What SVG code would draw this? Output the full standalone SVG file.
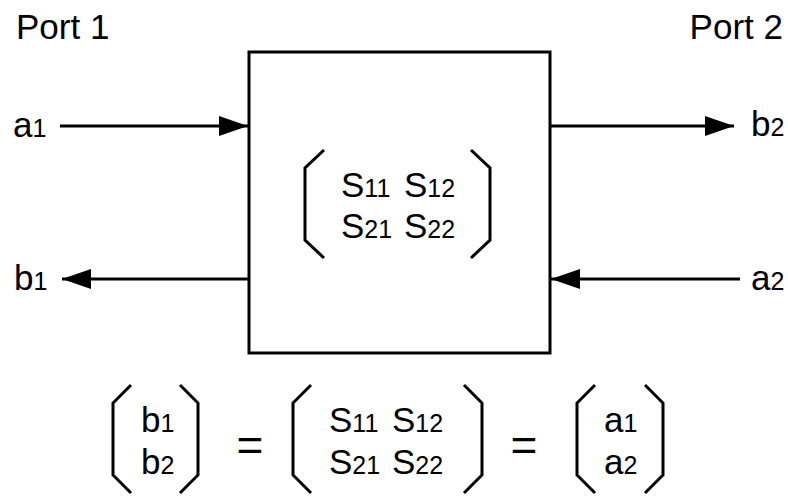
<svg xmlns="http://www.w3.org/2000/svg" width="788" height="496" viewBox="0 0 788 496">
<defs>
<style>
text{font-family:"Liberation Sans",Arial,sans-serif;fill:#000;}
.lbl{font-size:35px;}
.sub{font-size:25px;}
.eq{font-size:46px;}
.br{fill:none;stroke:#000;stroke-width:3;stroke-linejoin:miter;}
.wire{stroke:#000;stroke-width:3;fill:none;}
</style>
<marker id="ah" markerUnits="userSpaceOnUse" markerWidth="29" markerHeight="20" refX="29" refY="10" orient="auto" viewBox="0 0 29 20">
<path d="M0,0 L29,10 L0,20 z" fill="#000"/>
</marker>
</defs>
<rect width="788" height="496" fill="#fff"/>

<g id="port1"><text class="lbl" x="16" y="39">Port 1</text></g>
<g id="port2"><text class="lbl" x="783" y="39" text-anchor="end">Port 2</text></g>

<g id="network">
<rect x="249" y="52" width="301" height="301" fill="#fff" stroke="#000" stroke-width="3"/>
<path class="br" d="M324,150 L305,168 L305,240 L324,258"/>
<path class="br" d="M471,150 L490,168 L490,240 L471,258"/>
<text class="lbl" x="341" y="197">S<tspan class="sub">11</tspan><tspan x="404">S</tspan><tspan class="sub">12</tspan></text>
<text class="lbl" x="341" y="238">S<tspan class="sub">21</tspan><tspan x="404">S</tspan><tspan class="sub">22</tspan></text>
</g>

<g id="label-a1"><text class="lbl" x="13" y="137">a<tspan class="sub">1</tspan></text></g>
<g id="label-b1"><text class="lbl" x="14" y="290">b<tspan class="sub">1</tspan></text></g>
<g id="label-b2"><text class="lbl" x="751" y="136">b<tspan class="sub">2</tspan></text></g>
<g id="label-a2"><text class="lbl" x="751" y="290">a<tspan class="sub">2</tspan></text></g>

<g id="connectors">
<line class="wire" x1="60" y1="126" x2="248" y2="126" marker-end="url(#ah)"/>
<line class="wire" x1="550" y1="126" x2="734" y2="126" marker-end="url(#ah)"/>
<line class="wire" x1="248" y1="279" x2="62" y2="279" marker-end="url(#ah)"/>
<line class="wire" x1="740" y1="279" x2="551" y2="279" marker-end="url(#ah)"/>
</g>

<g id="equation">
<path class="br" d="M131,385 L113,403 L113,475 L131,493"/>
<path class="br" d="M180,385 L198,403 L198,475 L180,493"/>
<text class="lbl" x="141" y="432">b<tspan class="sub">1</tspan></text>
<text class="lbl" x="141" y="474">b<tspan class="sub">2</tspan></text>
<text class="eq" x="250" y="461" text-anchor="middle">=</text>
<path class="br" d="M311,385 L293,403 L293,475 L311,493"/>
<path class="br" d="M464,385 L482,403 L482,475 L464,493"/>
<text class="lbl" x="329" y="432">S<tspan class="sub">11</tspan><tspan x="392">S</tspan><tspan class="sub">12</tspan></text>
<text class="lbl" x="329" y="474">S<tspan class="sub">21</tspan><tspan x="392">S</tspan><tspan class="sub">22</tspan></text>
<text class="eq" x="524" y="461" text-anchor="middle">=</text>
<path class="br" d="M595,385 L577,403 L577,475 L595,493"/>
<path class="br" d="M645,385 L663,403 L663,475 L645,493"/>
<text class="lbl" x="604" y="432">a<tspan class="sub">1</tspan></text>
<text class="lbl" x="604" y="474">a<tspan class="sub">2</tspan></text>
</g>
</svg>
